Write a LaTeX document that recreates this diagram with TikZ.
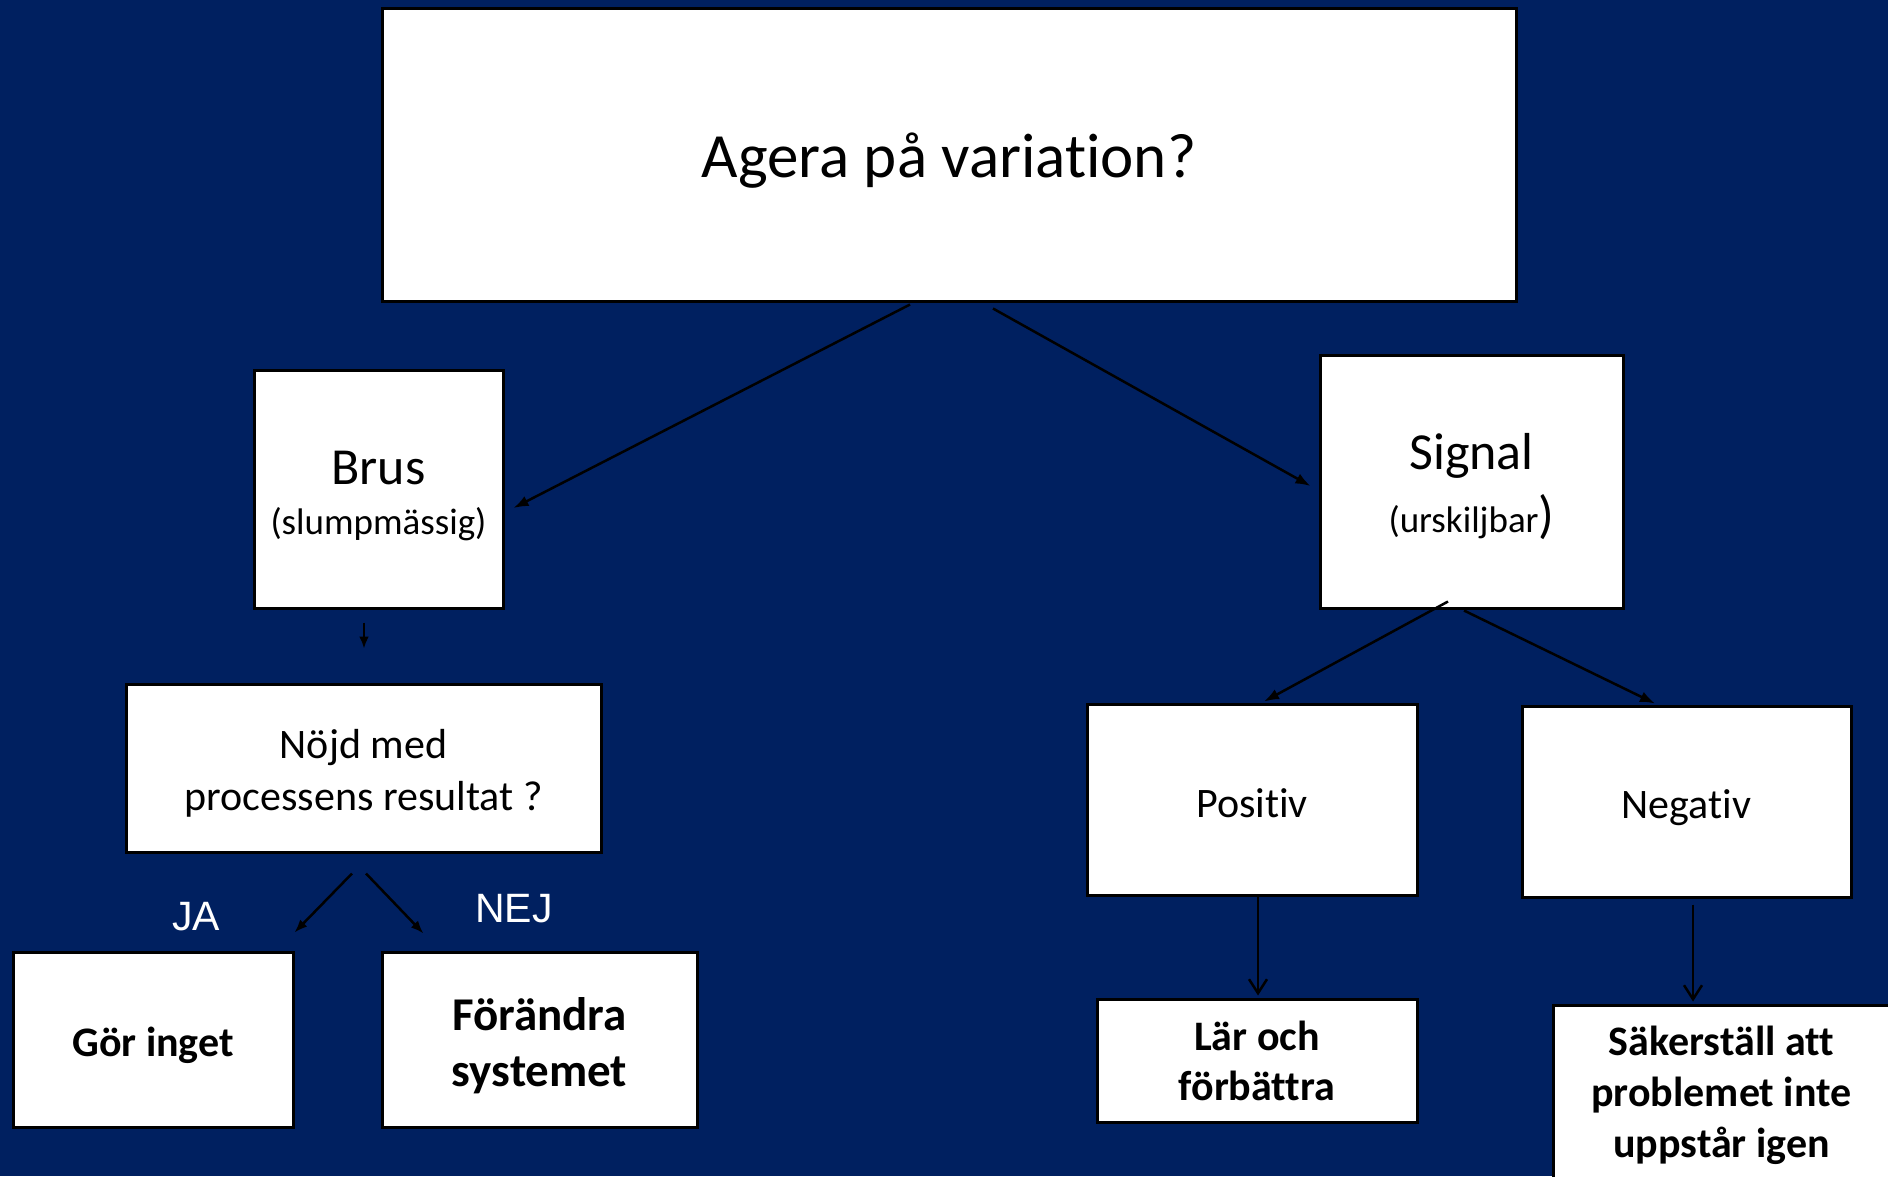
\documentclass[tikz,border=0pt]{standalone}
\usepackage{fontspec}
\setmainfont{Carlito}[Ligatures=NoCommon]
\newfontfamily\arialfont{Liberation Sans}
\usetikzlibrary{arrows.meta}
\definecolor{navy}{RGB}{0,32,96}

\begin{document}
\begin{tikzpicture}[x=1pt, y=-1pt,
        box/.style={draw=black, line width=3pt, fill=white, inner sep=0pt, align=center},
        link/.style={line width=2.5pt, -{Latex[length=15pt,width=11pt]}},
        openlink/.style={line width=2.5pt, -{Straight Barb[length=14pt,width=18pt]}},
        answer/.style={text=white, font=\arialfont\fontsize{41}{48}\selectfont}]
        % Background
        \fill[navy] (0,0) rectangle (1888,1176);
        \clip (0,0) rectangle (1888,1176);

        % Nodes
        \node[box, minimum width=1134pt, minimum height=293pt, font=\fontsize{63}{70}\selectfont] (question) at (949,154.5) {\raisebox{-6pt}[\height][\depth]{Agera på variation?}};

        \node[box, minimum width=249pt, minimum height=238pt, font=\fontsize{52}{50}\selectfont] (brus) at (378.5,489)
            {\rule{0pt}{48pt}Brus\\\fontsize{37}{50}\selectfont(slumpmässig)};
        \node[box, minimum width=303pt, minimum height=253pt, font=\fontsize{52}{63}\selectfont] (signal) at (1471.5,481.5)
            {\rule{0pt}{46pt}Signal\\{\fontsize{37}{63}\selectfont(urskiljbar})};

        \node[box, minimum width=475pt, minimum height=168pt, font=\fontsize{42}{52}\selectfont] (content) at (363.5,768) {\rule{0pt}{39pt}Nöjd med\\processens resultat ?};
        \node[box, minimum width=280pt, minimum height=175pt, font=\bfseries\fontsize{42}{51}\selectfont] (nothing) at (153,1039.5) {\raisebox{-6pt}[\height][\depth]{Gör inget}};
        \node[box, minimum width=315pt, minimum height=175pt, font=\bfseries\fontsize{47}{56}\selectfont] (change) at (539.5,1039.5) {\rule{0pt}{46pt}Förändra\\systemet};

        \node[box, minimum width=330pt, minimum height=191pt, font=\fontsize{42}{51}\selectfont] (positive) at (1252,799.5) {\raisebox{-4pt}[\height][\depth]{Positiv}};
        \node[box, minimum width=329pt, minimum height=191pt, font=\fontsize{42}{51}\selectfont] (negative) at (1686.5,801.5) {\raisebox{-6pt}[\height][\depth]{Negativ}};
        \node[box, minimum width=320pt, minimum height=123pt, font=\bfseries\fontsize{42}{50}\selectfont] (learn) at (1257,1060.5) {Lär och\\förbättra};
        \node[box, minimum width=337pt, minimum height=180pt, font=\bfseries\fontsize{42}{51}\selectfont] (ensure) at (1721.5,1095) {Säkerställ att\\problemet inte\\uppstår igen};

        \node[answer] (yes) at (196,917) {JA};
        \node[answer] (no) at (514,909) {NEJ};

        % Arrows
        \draw[link] ([xshift=-39pt,yshift=-2pt]question.south) -- ([xshift=9pt,yshift=-19pt]brus.east);
        \draw[link] ([xshift=44pt,yshift=-6pt]question.south) -- ([xshift=-8pt,yshift=-4.5pt]signal.west);
        \draw[line width=2.5pt, -{Latex[length=12pt,width=10pt]}] ([xshift=-14.5pt,yshift=-13pt]brus.south) -- ([xshift=0.5pt,yshift=34pt]content.north);
        \draw[line width=2.5pt, -{Latex[length=13pt,width=10pt]}] ([xshift=-11.5pt,yshift=-20pt]content.south) -- ([yshift=18pt]nothing.north east);
        \draw[line width=2.5pt, -{Latex[length=13pt,width=10pt]}] ([xshift=2.5pt,yshift=-20pt]content.south) -- ([xshift=43pt,yshift=17pt]change.north west);
        \draw[link] ([xshift=-23.5pt,yshift=8pt]signal.south) -- ([xshift=12pt,yshift=1pt]positive.north);
        \draw[link] ([xshift=-7.5pt,yshift=-1pt]signal.south) -- ([xshift=-31.5pt,yshift=1pt]negative.north);
        \draw[openlink] ([xshift=6pt]positive.south) -- ([xshift=1pt,yshift=2pt]learn.north);
        \draw[openlink] ([xshift=6.5pt,yshift=-6pt]negative.south) -- ([xshift=-28.5pt,yshift=2pt]ensure.north);
\end{tikzpicture}
\end{document}
